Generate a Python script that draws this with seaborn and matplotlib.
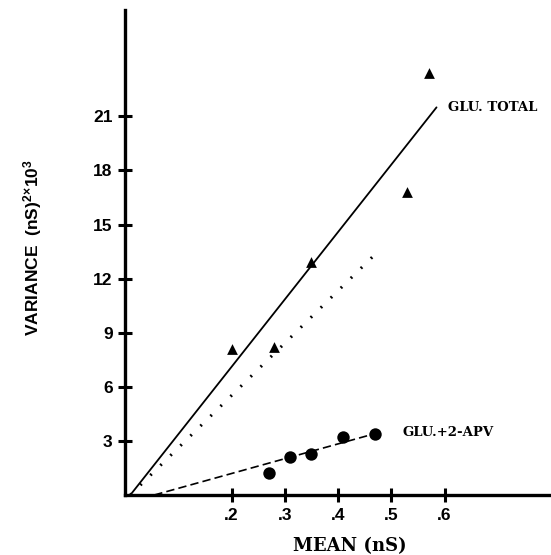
# Noise analysis: variance vs mean conductance

import numpy as np
import pandas as pd
import matplotlib
matplotlib.use("Agg")
import matplotlib.pyplot as plt
import seaborn as sns

sns.set_theme(style="white")
plt.rcParams['font.family'] = ['Liberation Sans', 'DejaVu Sans']
plt.rcParams['mathtext.fontset'] = 'custom'
plt.rcParams['mathtext.bf'] = 'Liberation Sans:bold'
plt.rcParams['mathtext.rm'] = 'Liberation Sans:bold'
plt.rcParams['mathtext.default'] = 'bf'
for key in ['text.color', 'axes.labelcolor', 'xtick.color', 'ytick.color']:
    plt.rcParams[key] = 'black'

# --- data ---
total_mean = [0.20, 0.28, 0.35, 0.53, 0.57]
total_var = [8.1, 8.2, 12.9, 16.8, 23.4]

apv_mean = [0.27, 0.31, 0.35, 0.41, 0.47]
apv_var = [1.2, 2.1, 2.3, 3.2, 3.4]

# fitted lines (end points)
total_fit_x = [0.01, 0.585]
total_fit_y = [0.0, 21.5]
dotted_fit_x = [0.01, 0.468]
dotted_fit_y = [0.0, 13.3]
apv_fit_x = [0.055, 0.475]
apv_fit_y = [0.0, 3.45]

xticks = [0.2, 0.3, 0.4, 0.5, 0.6]
xtick_labels = [".2", ".3", ".4", ".5", ".6"]
yticks = [3, 6, 9, 12, 15, 18, 21]

total = pd.DataFrame({"mean": total_mean, "var": total_var})
apv = pd.DataFrame({"mean": apv_mean, "var": apv_var})

fig = plt.figure(figsize=(5.51, 5.55), dpi=100)
ax = fig.add_axes([125 / 551, 60 / 555, 426 / 551, 485 / 555])

sns.lineplot(x=total_fit_x, y=total_fit_y, ax=ax, color="black", lw=1.3)
sns.lineplot(x=dotted_fit_x, y=dotted_fit_y, ax=ax, color="black", lw=2.2,
             linestyle=(0, (0.6, 4.0)))
sns.lineplot(x=apv_fit_x, y=apv_fit_y, ax=ax, color="black", lw=1.2,
             linestyle=(0, (5, 2.5)))

sns.scatterplot(data=total, x="mean", y="var", ax=ax, marker="^", s=60,
                color="black", edgecolor="black", linewidth=0, zorder=5)
sns.scatterplot(data=apv, x="mean", y="var", ax=ax, marker="o", s=80,
                color="black", edgecolor="black", linewidth=0, zorder=5)

ax.set_xlim(0, 0.8)
ax.set_ylim(0, 26.9)

ax.set_xticks(xticks)
ax.set_xticklabels(xtick_labels)
ax.set_yticks(yticks)
ax.tick_params(left=True, bottom=True, direction="inout", length=10, width=2.2,
               color="black", labelcolor="black", labelsize=12.5, pad=4)
for lab in ax.get_xticklabels() + ax.get_yticklabels():
    lab.set_fontweight("bold")

for side in ["top", "right"]:
    ax.spines[side].set_visible(False)
for side in ["left", "bottom"]:
    ax.spines[side].set_linewidth(2.4)
    ax.spines[side].set_color("black")

ax.set_xlabel("MEAN (nS)", family="DejaVu Serif", fontweight="bold", fontsize=13)
ax.xaxis.set_label_coords(0.528, -0.086)
ax.set_ylabel(r"VARIANCE  (nS)$^{2}$$^{\times}$10$^{3}$", fontweight="bold", fontsize=12.5)
ax.yaxis.set_label_coords(-0.19, 0.51)

ax.text(0.606, 21.5, "GLU. TOTAL", family="DejaVu Serif", fontweight="bold",
        fontsize=9.5, va="center", ha="left")
ax.text(0.521, 3.45, "GLU.+2-APV", family="DejaVu Serif", fontweight="bold",
        fontsize=9.5, va="center", ha="left")

fig.savefig("out.png", dpi=100)
